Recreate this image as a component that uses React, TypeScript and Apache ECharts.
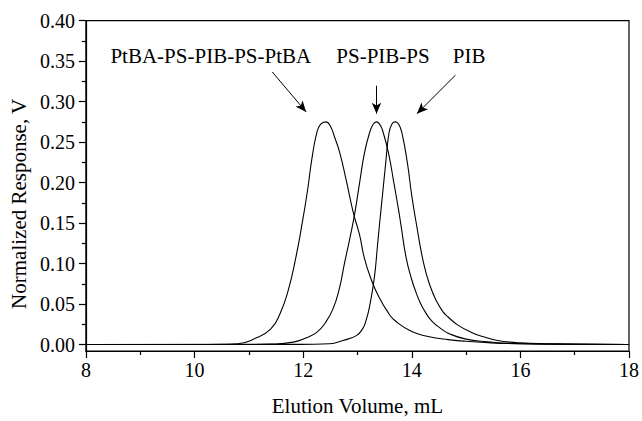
import React, { useEffect, useRef } from "react";
import * as echarts from "echarts";

const FONT = "Liberation Serif";

// PtBA-PS-PIB-PS-PtBA
const pentaVolume = [8, 10.0, 10.5, 10.8, 11.1, 11.4, 11.58, 11.73, 11.87, 11.98, 12.08, 12.16, 12.25, 12.32, 12.42, 12.5, 12.58, 12.67, 12.79, 12.92, 13.04, 13.13, 13.25, 13.4, 13.58, 13.7, 14.0, 14.3, 14.67, 15.0, 15.46, 16.0, 17.0, 18.0];
const pentaResponse = [0, 0, 0.0003, 0.001, 0.007, 0.019, 0.039, 0.068, 0.109, 0.149, 0.19, 0.229, 0.261, 0.272, 0.275, 0.27, 0.256, 0.238, 0.204, 0.164, 0.135, 0.106, 0.081, 0.058, 0.038, 0.029, 0.016, 0.01, 0.006, 0.004, 0.002, 0.001, 0.0003, 0];

// PS-PIB-PS
const triVolume = [8, 11.0, 11.4, 11.82, 12.05, 12.25, 12.4, 12.55, 12.67, 12.76, 12.86, 12.95, 13.04, 13.13, 13.22, 13.29, 13.35, 13.41, 13.46, 13.57, 13.67, 13.76, 13.8, 13.9, 14.0, 14.07, 14.16, 14.25, 14.37, 14.55, 14.67, 14.98, 15.46, 16.0, 17.0, 18.0];
const triResponse = [0, 0, 0.0005, 0.003, 0.008, 0.015, 0.026, 0.044, 0.07, 0.1, 0.131, 0.162, 0.2, 0.237, 0.261, 0.272, 0.275, 0.272, 0.265, 0.237, 0.2, 0.165, 0.148, 0.106, 0.08, 0.066, 0.051, 0.04, 0.029, 0.019, 0.014, 0.007, 0.003, 0.001, 0.0003, 0];

// PIB
const pibVolume = [8, 11.9, 12.49, 12.73, 12.98, 13.1, 13.15, 13.22, 13.31, 13.37, 13.41, 13.46, 13.52, 13.58, 13.64, 13.7, 13.76, 13.82, 13.92, 14.0, 14.08, 14.22, 14.34, 14.46, 14.58, 14.67, 14.85, 15.1, 15.35, 15.58, 16.0, 16.5, 17.5, 18.0];
const pibResponse = [0, 0.0002, 0.001, 0.005, 0.011, 0.02, 0.028, 0.046, 0.082, 0.123, 0.151, 0.184, 0.224, 0.261, 0.273, 0.275, 0.272, 0.261, 0.224, 0.184, 0.151, 0.1, 0.072, 0.053, 0.04, 0.034, 0.024, 0.015, 0.009, 0.005, 0.002, 0.001, 0.0002, 0];

const xTicks = [8, 10, 12, 14, 16, 18];
const yMajorTicks = [0, 0.05, 0.1, 0.15, 0.2, 0.25, 0.3, 0.35, 0.4];
const yMinorTicks = [0.025, 0.075, 0.125, 0.175, 0.225, 0.275, 0.325, 0.375];

const labelTexts = ["PtBA-PS-PIB-PS-PtBA", "PS-PIB-PS", "PIB"];
const labelX = [10.3, 13.47, 15.055];
const labelY = [0.3562, 0.3562, 0.3562];

const arrowFromX = [11.431, 13.351, 14.805];
const arrowFromY = [0.3367, 0.3197, 0.3327];
const arrowToX = [12.055, 13.351, 14.096];
const arrowToY = [0.2873, 0.2852, 0.2852];

const zip = (xs: number[], ys: number[]) => xs.map((x, i) => [x, ys[i]]);

export default function App() {
  const ref = useRef<HTMLDivElement>(null);
  useEffect(() => {
    if (!ref.current) return;
    const chart = echarts.init(ref.current, null, { renderer: "svg" });
    const lineBase = {
      type: "line",
      showSymbol: false,
      smooth: 0.5,
      lineStyle: { color: "#000", width: 1.1 },
      itemStyle: { color: "#000" },
      silent: true,
    };
    chart.setOption({
      animation: false,
      grid: {
        left: 83,
        right: 9.5,
        top: 20.7,
        bottom: 65,
        show: true,
        borderColor: "#000",
        borderWidth: 1.2,
        backgroundColor: "transparent",
      },
      xAxis: {
        type: "value",
        min: xTicks[0],
        max: xTicks[xTicks.length - 1],
        interval: 2,
        axisLine: { show: true, onZero: false, lineStyle: { color: "#000", width: 1.2 } },
        axisTick: { show: true, inside: false, length: 7, lineStyle: { color: "#000", width: 1.2 } },
        minorTick: { show: true, splitNumber: 2, length: 4, lineStyle: { color: "#000", width: 1.2 } },
        axisLabel: {
          fontFamily: FONT,
          fontSize: 20,
          color: "#000",
          margin: 9,
          showMinLabel: true,
          showMaxLabel: true,
        },
        splitLine: { show: false },
        name: "Elution Volume, mL",
        nameLocation: "middle",
        nameGap: 44,
        nameTextStyle: { fontFamily: FONT, fontSize: 21, color: "#000" },
      },
      yAxis: [
        {
          type: "value",
          min: -0.008,
          max: 0.4,
          position: "left",
          axisLine: { show: true, onZero: false, lineStyle: { color: "#000", width: 1.2 } },
          axisTick: {
            show: true,
            inside: false,
            length: 7,
            customValues: yMajorTicks,
            lineStyle: { color: "#000", width: 1.2 },
          },
          axisLabel: {
            customValues: yMajorTicks,
            formatter: (v: number) => v.toFixed(2),
            fontFamily: FONT,
            fontSize: 20,
            color: "#000",
            margin: 11,
          },
          splitLine: { show: false },
          name: "Normalized Response, V",
          nameLocation: "middle",
          nameRotate: 90,
          nameGap: 53,
          nameTextStyle: {
            fontFamily: FONT,
            fontSize: 21,
            color: "#000",
            padding: [0, 36, 0, 0],
          },
        },
        {
          type: "value",
          min: -0.008,
          max: 0.4,
          position: "left",
          axisLine: { show: false },
          axisTick: {
            show: true,
            inside: false,
            length: 4,
            customValues: yMinorTicks,
            lineStyle: { color: "#000", width: 1.2 },
          },
          axisLabel: { show: false },
          splitLine: { show: false },
        },
      ],
      series: [
        {
          ...lineBase,
          name: labelTexts[0],
          data: zip(pentaVolume, pentaResponse),
          markLine: {
            silent: true,
            symbol: ["none", "arrow"],
            symbolSize: [7, 11],
            label: { show: false },
            lineStyle: { color: "#000", width: 1, type: "solid" },
            data: arrowFromX.map((x, i) => [
              { coord: [x, arrowFromY[i]] },
              { coord: [arrowToX[i], arrowToY[i]] },
            ]),
          },
        },
        { ...lineBase, name: labelTexts[1], data: zip(triVolume, triResponse) },
        { ...lineBase, name: labelTexts[2], data: zip(pibVolume, pibResponse) },
      ],
    });
    const texts = labelTexts.map((t, i) => {
      const p = chart.convertToPixel({ gridIndex: 0 }, [labelX[i], labelY[i]]) as number[];
      return {
        type: "text",
        x: p[0],
        y: p[1],
        silent: true,
        style: {
          text: t,
          fontFamily: FONT,
          fontSize: 21,
          fill: "#000",
          align: "center",
          verticalAlign: "middle",
        },
      };
    });
    chart.setOption({ graphic: texts });
    return () => chart.dispose();
  }, []);
  return (
    <div
      ref={ref}
      style={{ position: "absolute", left: 0, top: 0, width: 642, height: 421 }}
    />
  );
}
